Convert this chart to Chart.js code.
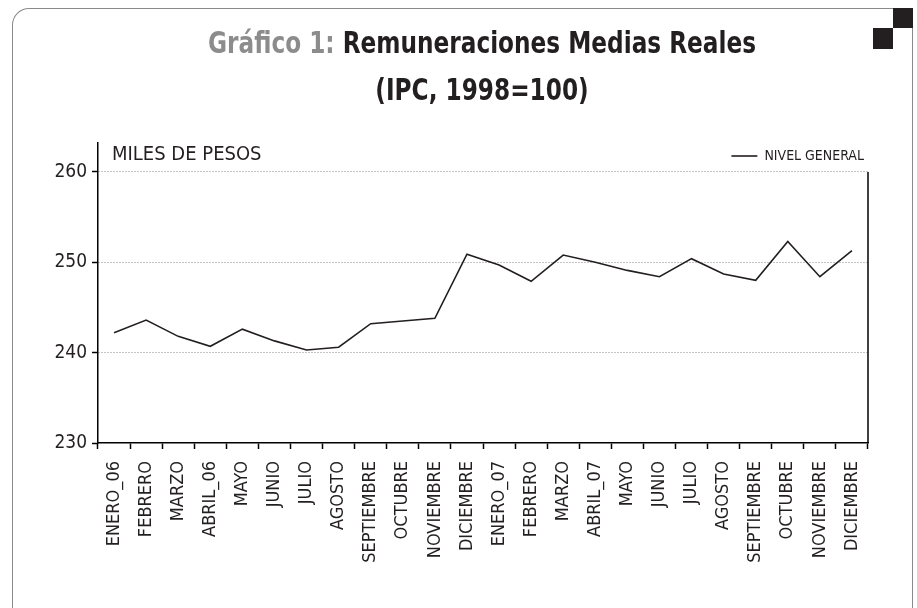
<!DOCTYPE html>
<html>
<head>
<meta charset="utf-8">
<script src="https://cdn.jsdelivr.net/npm/chart.js@4.4.1/dist/chart.umd.min.js"></script>
<style>
  html, body { margin: 0; padding: 0; background: #fff; width: 917px; height: 608px; overflow: hidden; }
  #wrap { position: relative; width: 917px; height: 608px; }
  canvas { position: absolute; left: 0; top: 0; }
  .frame { position: absolute; left: 12px; top: 8px; width: 901px; height: 640px;
           border: 1.5px solid #8a8a8a; border-bottom: none; border-top-left-radius: 17px; border-top-right-radius: 0; box-sizing: border-box; }
  .sq { position: absolute; background: #231f20; width: 20px; height: 20px; }
  .t { position: absolute; left: 0; width: 964px; text-align: center; white-space: nowrap;
       font-family: 'Liberation Sans Narrow', 'DejaVu Sans Condensed', 'Liberation Sans', sans-serif;
       font-weight: bold; font-size: 30px; line-height: 30px; color: #231f20;
       transform: scaleX(0.86); transform-origin: 482px 0; }
  .t .g { color: #8c8c8c; }
</style>
</head>
<body>
<div id="wrap">
  <canvas id="c" width="917" height="608"></canvas>
  <div class="frame"></div>
  <div class="sq" style="left:893px; top:8px;"></div>
  <div class="sq" style="left:873px; top:28px; height:21px;"></div>
  <div class="t" style="top:28px;"><span class="g">Gráfico 1:</span> Remuneraciones Medias Reales</div>
  <div class="t" style="top:75px;">(IPC, 1998=100)</div>
</div>
<script>
const categories = ['ENERO_06','FEBRERO','MARZO','ABRIL_06','MAYO','JUNIO','JULIO','AGOSTO','SEPTIEMBRE','OCTUBRE','NOVIEMBRE','DICIEMBRE',
                    'ENERO_07','FEBRERO','MARZO','ABRIL_07','MAYO','JUNIO','JULIO','AGOSTO','SEPTIEMBRE','OCTUBRE','NOVIEMBRE','DICIEMBRE'];
const nivelGeneral = [242.2, 243.6, 241.8, 240.7, 242.6, 241.3, 240.3, 240.6, 243.2, 243.5, 243.8, 250.9,
                      249.7, 247.9, 250.8, 250.0, 249.1, 248.4, 250.4, 248.7, 248.0, 252.3, 248.4, 251.3];
const yTicks = [230, 240, 250, 260];
const seriesName = 'NIVEL GENERAL';
const unitLabel = 'MILES DE PESOS';

const FONT = "'Liberation Sans Narrow', 'DejaVu Sans Condensed', 'Liberation Sans', sans-serif";
const LEGEND_FONT_SIZE = 14;
const LEGEND_PAD = 4;
// legend height for a single-row horizontal legend in Chart.js: itemHeight + padding + 10
const LEGEND_H = LEGEND_FONT_SIZE + LEGEND_PAD + 10;

const extras = {
  id: 'extras',
  afterLayout(chart) {
    // move the legend down into the top of the plot area
    const lg = chart.legend;
    if (lg) {
      const h = lg.height;
      lg.top = chart.chartArea.top + 2;
      lg.bottom = lg.top + h;
    }
  },
  afterDraw(chart) {
    const {ctx, chartArea, scales} = chart;
    ctx.save();
    ctx.strokeStyle = '#000';
    ctx.lineWidth = 1.5;
    ctx.beginPath();
    ctx.moveTo(chartArea.right, scales.y.getPixelForValue(yTicks[yTicks.length - 1]));
    ctx.lineTo(chartArea.right, chartArea.bottom);
    ctx.stroke();
    ctx.fillStyle = '#231f20';
    ctx.font = "20px " + FONT;
    ctx.textBaseline = 'alphabetic';
    ctx.textAlign = 'left';
    ctx.fillText(unitLabel, chartArea.left + 14, chartArea.top + 17);
    ctx.restore();
  }
};

new Chart(document.getElementById('c'), {
  type: 'line',
  data: {
    labels: categories,
    datasets: [{
      label: seriesName,
      data: nivelGeneral,
      borderColor: '#231f20',
      backgroundColor: '#231f20',
      borderWidth: 1.6,
      pointRadius: 0,
      tension: 0,
      fill: false
    }]
  },
  options: {
    responsive: false,
    animation: false,
    layout: { padding: { left: 0, top: 143 - LEGEND_H, right: 49, bottom: 0 } },
    plugins: {
      title: { display: false },
      tooltip: { enabled: false },
      legend: {
        position: 'top',
        align: 'end',
        labels: {
          usePointStyle: true,
          pointStyle: 'line',
          pointStyleWidth: 26,
          padding: LEGEND_PAD,
          color: '#231f20',
          font: { family: FONT, size: LEGEND_FONT_SIZE }
        }
      }
    },
    scales: {
      x: {
        offset: true,
        grid: { offset: true, drawOnChartArea: false, drawTicks: true, tickLength: 6, tickColor: '#000', tickWidth: 1.5 },
        border: { color: '#000', width: 1.5 },
        ticks: {
          autoSkip: false, minRotation: 90, maxRotation: 90, padding: 12,
          color: '#231f20', font: { family: FONT, size: 18 }
        },
        afterFit(s) { s.height = 165; }
      },
      y: {
        min: 230, max: 263.2,
        grid: {
          color: (c) => (c.tick && c.tick.value === yTicks[0]) ? 'rgba(0,0,0,0)' : '#8a8a8a',
          lineWidth: 1,
          tickColor: '#000', tickWidth: 1.5, tickLength: 6, tickBorderDash: []
        },
        border: { color: '#000', width: 1.5, dash: [1, 2] },
        ticks: {
          stepSize: 10, includeBounds: false, padding: 5,
          color: '#231f20', font: { family: FONT, size: 19 }
        },
        afterBuildTicks(s) { s.ticks = yTicks.map(v => ({ value: v })); },
        afterFit(s) { s.width = 98; }
      }
    }
  },
  plugins: [extras]
});
</script>
</body>
</html>
